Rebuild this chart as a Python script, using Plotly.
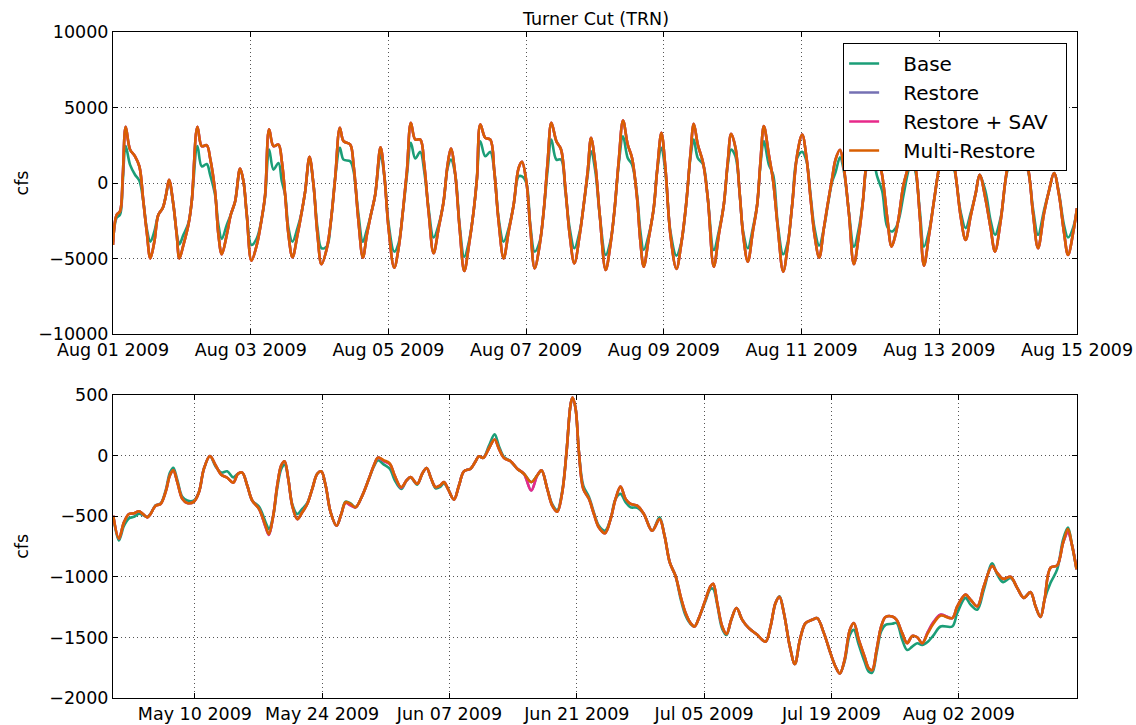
import pandas as pd
import plotly.graph_objects as go

# ---------------- top panel: tidal flow, hours after 2009-08-01 00:00 ----------------
top_hours = [0.0, 1.28, 2.44, 3.37, 4.42, 5.93, 7.68, 9.19, 10.58, 11.75, 13.02, 14.42, 15.81, 17.33,
             18.49, 19.54, 21.05, 22.21, 23.14, 24.54, 26.28, 27.44, 29.42, 30.93, 32.68, 33.84, 35.58,
             36.75, 37.91, 39.65, 41.05, 42.56, 44.30, 45.47, 46.63, 48.26, 50.12, 51.86, 53.02, 54.42,
             55.93, 57.68, 58.84, 60.00, 61.17, 62.56, 64.30, 65.81, 66.98, 68.49, 69.88, 71.28, 72.68,
             74.54, 75.93, 77.44, 79.07, 80.35, 82.67, 83.84, 84.41, 85.57, 87.09, 88.48, 89.88, 91.39,
             93.25, 94.65, 96.04, 98.02, 99.53, 101.04, 102.44, 103.83, 105.35, 107.09, 108.48, 109.99,
             111.74, 113.49, 115.23, 116.63, 117.79, 119.30, 120.81, 122.44, 124.07, 125.69, 126.86,
             128.02, 129.76, 131.51, 132.90, 134.41, 136.16, 137.90, 139.65, 141.39, 142.55, 144.07,
             145.46, 146.97, 148.72, 150.11, 151.51, 152.79, 154.53, 156.16, 157.67, 159.18, 160.81,
             162.67, 164.07, 165.46, 166.62, 168.12, 169.64, 171.73, 173.36, 174.75, 176.26, 177.77,
             179.40, 180.91, 182.66, 183.82, 184.98, 186.73, 188.47, 189.64, 191.15, 192.54, 194.29,
             196.38, 198.01, 199.75, 201.26, 202.43, 203.82, 205.68, 207.31, 209.40, 211.15, 212.89,
             214.29, 215.45, 216.96, 218.47, 219.64, 221.27, 223.01, 224.52, 225.68, 226.85, 228.59,
             230.10, 231.73, 233.59, 235.22, 236.73, 238.47, 240.22, 241.73, 243.13, 244.52, 246.15,
             247.78, 249.17, 250.68, 251.83, 253.40, 254.74, 256.49, 258.23, 259.97, 261.49, 262.42,
             264.30, 266.37, 268.11, 269.86, 271.37, 272.76, 273.93, 275.44, 277.07, 278.30, 279.74,
             281.25, 282.65, 284.39, 286.14, 287.88, 290.50, 293.35, 295.44, 297.18, 298.93, 300.67,
             302.07, 304.16, 305.90, 307.42, 309.39, 311.72, 315.20, 318.93, 320.67, 322.42, 324.51,
             326.25, 328.00, 329.74, 331.49, 332.88, 334.74, 336.00]

top_multi = [-4100, -2100, -1880, 330, 3720, 2220, 1770, 1100, -1220, -3210, -4990, -3880, -2100, -1660,
             -780, 220, -1440, -3430, -4990, -4100, -2770, -1220, 3720, 2440, 2500, 1660, -550,
             -3430, -4720, -3430, -2100, -1220, 950, 110, -2100, -5140, -4100, -2330, -780, 3550,
             2440, 2550, 1440, -780, -3430, -4920, -3430, -1880, -550, 1730, -110, -3430, -5380,
             -4320, -2550, 330, 3660, 2770, 2550, 1200, 110, -2550, -4940, -3430, -2100, -780,
             2370, 330, -2990, -5610, -4320, -1880, 780, 3990, 2880, 2880, 1220, -1880,
             -4650, -2990, -1220, 1220, 2280, 550, -2990, -5830, -4100, -1880, 330,
             3880, 2990, 2880, 780, -2550, -4990, -3210, -1440, 1000, 1400, 110,
             -2990, -5650, -4100, -1880, 1440, 3990, 2770, 2220, -330, -3430, -5320,
             -3430, -1440, 780, 2990, 1220, -2100, -5760, -4100, -1880, 1440, 4140,
             2550, 1660, -1000, -3880, -5540, -3660, -1660, 780, 3320, 1000, -3430,
             -5690, -4100, -1440, 1880, 3920, 2550, 1330, -1000, -5540, -3430, -1440,
             1440, 3260, 2330, -780, -3430, -5210, -3210, -1440, 1440, 3770, 1880,
             110, -2990, -5870, -4100, -1440, 1880, 3210, 1660, -1000, -3430, -4940,
             -2990, -1330, 330, 1550, 2200, 1000, -2000, -5380, -3430, -1000, 1000,
             2800, 2000, 500, -2300, -4210, -3400, -2200, -200, 1000, 2000, 1000,
             -2300, -5470, -3500, -1200, 1000, 3500, 1000, -2200, -3770, -2200, -700,
             550, -1100, -3000, -4540, -2500, 1000, 3500, 1000, -2000, -4320, -2000,
             -500, 660, -800, -3300, -4760, -3200, -1660]

top_base = [-3900, -2300, -2100, 0, 2440, 1220, 550, 150, -1220, -3000, -3880, -3210, -2100, -1660,
            -780, 100, -1440, -3320, -4050, -3430, -2660, -1220, 2440, 1100, 1260, 550, -780,
            -2770, -3700, -2770, -2100, -1220, 900, 110, -2100, -4100, -3660, -2330, -900, 2220,
            890, 1330, 110, -780, -2990, -3880, -2990, -1880, -550, 1600, -110, -2990, -4320,
            -4200, -2550, 330, 2330, 1550, 1440, 800, 0, -2100, -3880, -3100, -2100, -780,
            1880, 330, -2660, -4540, -3990, -1880, 500, 2660, 1620, 2060, 780, -1660,
            -3610, -2770, -1220, 1000, 1550, 550, -2770, -4880, -3880, -1880, 330,
            2770, 1770, 2060, 780, -2330, -3880, -3000, -1440, 440, 440, 0,
            -2770, -4540, -3880, -1880, 900, 2880, 1550, 1550, -550, -3000, -4320,
            -3210, -1440, 550, 2100, 780, -2100, -4760, -3880, -1880, 1220, 3100,
            1660, 1220, -780, -3210, -4430, -3430, -1660, 780, 2330, 700, -3210,
            -4810, -4000, -1440, 1660, 2880, 1660, 1220, -1000, -4430, -3210, -1440,
            1220, 2220, 1770, -780, -3210, -4320, -3000, -1440, 1220, 2770, 1220,
            550, -2770, -4720, -3880, -1440, 1660, 2060, 1440, -780, -3000, -4140,
            -2990, -1440, 110, 700, 1700, 800, -1900, -4210, -3000, -1000, 800,
            2000, 420, -550, -2900, -3210, -2990, -2400, -900, 700, 1500, 700,
            -1900, -4210, -3200, -1200, 900, 2500, 800, -1900, -2990, -2000, -700,
            550, -600, -2500, -3430, -2300, 800, 2500, 800, -1700, -3430, -1800,
            -500, 660, -700, -2800, -3610, -2900, -1660]

# Restore and Restore + SAV sit under Multi-Restore in the top panel
top_restore = top_multi
top_sav = top_multi

# ---------------- bottom panel: tidally filtered flow, days after 2009-05-01 ----------------
bot_days = [0.03, 0.65, 1.20, 1.75, 2.30, 2.85, 3.29, 3.77, 4.13, 4.68, 5.23, 5.78, 6.26, 6.63, 7.07,
            7.62, 8.17, 8.90, 9.45, 10.0, 10.66, 11.28, 11.90, 12.56, 13.22, 13.74, 14.21, 14.76,
            15.31, 16.05, 16.78, 17.14, 17.62, 18.06, 18.50, 18.87, 19.27, 19.71, 20.26, 20.81,
            21.36, 21.91, 22.46, 22.90, 23.38, 23.93, 24.58, 25.10, 25.57, 26.12, 26.67, 27.41,
            28.14, 28.69, 29.13, 29.79, 30.45, 30.96, 31.70, 32.28, 32.72, 33.45, 34.00, 34.48,
            34.99, 35.47, 35.95, 36.39, 36.83, 37.49, 38.04, 38.59, 39.32, 39.87, 40.23, 40.71,
            41.33, 41.96, 42.43, 42.98, 43.72, 44.45, 45.18, 45.99, 46.65, 47.12, 47.75, 48.30,
            48.85, 49.40, 49.87, 50.31, 50.53, 50.86, 51.23, 51.71, 52.33, 52.88, 53.43, 54.10,
            54.71, 55.26, 55.81, 56.36, 56.91, 57.64, 58.37, 59.29, 60.10, 60.65, 61.23, 61.86,
            62.41, 62.96, 63.51, 63.94, 64.42, 65.15, 65.70, 66.00, 66.44, 66.99, 67.46, 67.98,
            68.56, 69.19, 69.92, 70.84, 71.75, 72.30, 72.85, 73.29, 73.77, 74.43, 74.98, 75.53,
            76.15, 76.88, 77.43, 78.17, 78.90, 79.45, 79.92, 80.44, 81.02, 81.46, 82.01, 82.64,
            83.11, 83.48, 83.96, 84.47, 84.95, 85.68, 86.16, 86.78, 87.33, 87.88, 88.43, 88.98,
            89.60, 90.26, 90.99, 92.28, 92.83, 93.74, 94.29, 95.03, 95.76, 96.67, 97.22, 97.88,
            98.69, 99.42, 100.15, 100.89, 101.44, 101.99, 102.43, 103.09, 103.82, 104.48, 105.00,
            105.47, 105.95]

bot_multi = [-496, -684, -551, -482, -476, -460, -482, -510, -482, -413, -399, -302, -163, -122, -219,
             -357, -391, -380, -302, -108, -3, -80, -158, -183, -224, -150, -141, -247,
             -371, -440, -579, -648, -496, -247, -80, -47, -191, -413, -524, -468,
             -399, -274, -150, -130, -247, -468, -579, -482, -385, -399, -427, -330,
             -191, -80, -17, -39, -66, -163, -260, -205, -177, -233, -150, -102,
             -191, -260, -247, -219, -274, -363, -247, -130, -108, -47, -6, -19,
             58, 133, 58, -19, -47, -108, -150, -219, -163, -122, -274, -413,
             -463, -302, 30, 418, 479, 390, 30, -274, -357, -482, -593, -640,
             -524, -357, -255, -357, -399, -413, -482, -620, -524, -662, -884, -994,
             -1161, -1299, -1382, -1410, -1341, -1188, -1078, -1058, -1216, -1410, -1471, -1355,
             -1258, -1355, -1424, -1479, -1535, -1410, -1216, -1166, -1299, -1576, -1720, -1521,
             -1382, -1355, -1341, -1465, -1632, -1742, -1798, -1687, -1438, -1382, -1521, -1659,
             -1756, -1770, -1604, -1410, -1332, -1327, -1355, -1465, -1548, -1488, -1499, -1548,
             -1465, -1382, -1321, -1341, -1244, -1147, -1188, -1244, -1078, -911, -967, -1017,
             -1000, -1091, -1174, -1127, -1244, -1332, -1188, -925, -906, -717, -607,
             -745, -939]

bot_base = [-500, -700, -580, -518, -505, -480, -490, -505, -480, -410, -395, -290, -140, -100, -200,
            -340, -371, -370, -300, -108, -3, -90, -140, -130, -180, -150, -141, -247,
            -371, -420, -550, -605, -496, -270, -110, -75, -191, -400, -482, -440,
            -390, -274, -150, -130, -247, -468, -579, -482, -380, -395, -427, -330,
            -191, -90, -39, -75, -110, -200, -275, -205, -180, -240, -150, -102,
            -191, -270, -260, -230, -274, -363, -247, -130, -108, -47, -6, -19,
            80, 175, 80, -10, -47, -108, -150, -219, -163, -122, -274, -400,
            -450, -290, 30, 418, 479, 390, 30, -247, -340, -470, -580, -620,
            -524, -357, -316, -385, -427, -430, -482, -620, -510, -662, -884, -994,
            -1180, -1320, -1390, -1410, -1341, -1200, -1100, -1100, -1230, -1430, -1480, -1355,
            -1258, -1355, -1424, -1479, -1535, -1410, -1216, -1160, -1299, -1576, -1720, -1521,
            -1382, -1355, -1341, -1465, -1632, -1742, -1798, -1700, -1480, -1438, -1562, -1700,
            -1784, -1790, -1630, -1450, -1396, -1388, -1380, -1520, -1604, -1576, -1548, -1562,
            -1535, -1479, -1410, -1410, -1299, -1174, -1230, -1271, -1105, -889, -980, -1044,
            -1010, -1091, -1174, -1127, -1244, -1332, -1188, -1050, -939, -690, -593,
            -745, -939]

bot_sav = [-496, -684, -551, -482, -476, -460, -482, -510, -482, -413, -399, -302, -163, -122, -219,
           -357, -391, -380, -302, -108, -3, -80, -158, -183, -224, -150, -141, -247,
           -371, -440, -590, -655, -496, -247, -80, -47, -191, -413, -524, -468,
           -399, -274, -150, -130, -247, -468, -579, -482, -390, -410, -427, -330,
           -191, -80, -17, -45, -70, -163, -265, -205, -177, -233, -150, -102,
           -191, -260, -247, -219, -274, -363, -247, -130, -108, -47, -6, -19,
           58, 133, 58, -19, -47, -108, -150, -288, -163, -122, -274, -413,
           -463, -302, 30, 418, 479, 390, 30, -274, -357, -482, -593, -640,
           -524, -357, -255, -357, -399, -413, -482, -620, -524, -662, -884, -994,
           -1161, -1299, -1382, -1410, -1341, -1188, -1078, -1058, -1216, -1410, -1471, -1355,
           -1258, -1355, -1424, -1479, -1535, -1410, -1216, -1166, -1299, -1576, -1720, -1521,
           -1382, -1355, -1341, -1465, -1632, -1742, -1798, -1687, -1438, -1382, -1521, -1659,
           -1756, -1770, -1604, -1410, -1332, -1327, -1355, -1465, -1548, -1488, -1499, -1548,
           -1455, -1370, -1313, -1341, -1244, -1147, -1188, -1244, -1078, -911, -967, -1017,
           -1000, -1091, -1174, -1127, -1244, -1332, -1188, -925, -906, -717, -634,
           -745, -939]

bot_restore = bot_sav

series_names = ["Base", "Restore", "Restore + SAV", "Multi-Restore"]
series_colors = ["#1b9e77", "#7570b3", "#e7298a", "#d95f02"]

top_x = pd.Timestamp("2009-08-01") + pd.to_timedelta(top_hours, unit="h")
bot_x = pd.Timestamp("2009-05-01") + pd.to_timedelta(bot_days, unit="D")

top_series = [top_base, top_restore, top_sav, top_multi]
bot_series = [bot_base, bot_restore, bot_sav, bot_multi]

FONT = "DejaVu Sans"
NBSP = "\u00a0"
fig = go.Figure()
for name, color, ys in zip(series_names, series_colors, top_series):
    fig.add_trace(go.Scatter(x=top_x, y=ys, name=NBSP * 3 + name + NBSP * 2, mode="lines",
                             line=dict(color=color, width=2.6, shape="spline", smoothing=1.0),
                             xaxis="x", yaxis="y"))
for name, color, ys in zip(series_names, series_colors, bot_series):
    fig.add_trace(go.Scatter(x=bot_x, y=ys, name=name, mode="lines", showlegend=False,
                             line=dict(color=color, width=2.6, shape="spline", smoothing=1.0),
                             xaxis="x2", yaxis="y2"))

axis_common = dict(showline=True, linecolor="black", linewidth=1, mirror="ticks",
                   ticks="inside", ticklen=5, tickcolor="black", tickwidth=1,
                   showgrid=True, gridcolor="#555555", gridwidth=1, griddash="1px,3px",
                   zeroline=False, automargin=False,
                   tickfont=dict(family=FONT, size=17.5, color="black"))

fig.update_layout(
    width=1136, height=725,
    margin=dict(l=113, r=59, t=32, b=27),
    paper_bgcolor="white", plot_bgcolor="white",
    font=dict(family=FONT, color="black"),
    showlegend=True,
    xaxis=dict(axis_common, domain=[0, 1], anchor="y", type="date",
               range=["2009-08-01", "2009-08-15"], tick0="2009-08-01", dtick=2 * 86400000,
               tickformat="%b %d %Y"),
    yaxis=dict(axis_common, domain=[0.5465, 1], anchor="x", range=[-10000, 10000],
               dtick=5000, tickformat="d"),
    xaxis2=dict(axis_common, domain=[0, 1], anchor="y2", type="date",
                range=["2009-05-01", "2009-08-15"], tick0="2009-05-10", dtick=14 * 86400000,
                tickformat="%b %d %Y"),
    yaxis2=dict(axis_common, domain=[0, 0.455], anchor="x2", range=[-2000, 500],
                dtick=500, tickformat="d"),
    legend=dict(x=0.7574, y=0.9835, xanchor="left", yanchor="top",
                bgcolor="white", bordercolor="black", borderwidth=1,
                font=dict(family=FONT, size=20, color="black")),
    annotations=[
        dict(text="Turner Cut (TRN)", xref="paper", yref="paper", x=0.5, y=1,
             yanchor="bottom", yshift=1, showarrow=False, font=dict(family=FONT, size=17.5)),
        dict(text="cfs", xref="paper", yref="paper", x=-0.094, y=0.7732, textangle=-90,
             xanchor="center", yanchor="middle", showarrow=False, font=dict(family=FONT, size=17.5)),
        dict(text="cfs", xref="paper", yref="paper", x=-0.094, y=0.2275, textangle=-90,
             xanchor="center", yanchor="middle", showarrow=False, font=dict(family=FONT, size=17.5)),
    ],
)

fig.write_html("out.html")
